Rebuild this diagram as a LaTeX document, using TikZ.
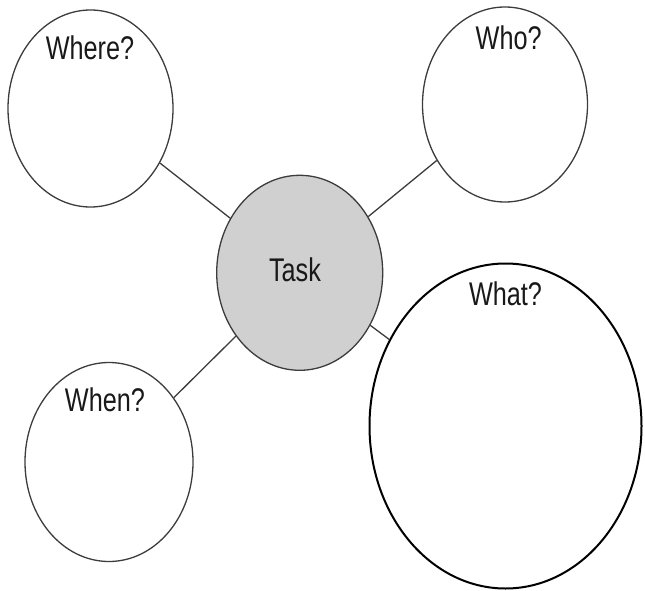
\documentclass[tikz,border=0pt]{standalone}
\usepackage{fontspec}
\setmainfont{Liberation Sans}
\newfontfamily\lblfont[FakeStretch=0.77]{Liberation Sans}
\usetikzlibrary{shapes.geometric}
\definecolor{taskgray}{RGB}{208,208,208}
\definecolor{edgegray}{RGB}{60,60,60}
\tikzset{
  bubble/.style={ellipse, draw=edgegray, line width=1.3pt, inner sep=0pt, fill=white},
  bigbubble/.style={ellipse, draw=black, line width=2pt, inner sep=0pt, fill=white},
  lbl/.style={anchor=base, inner sep=0pt, font=\lblfont\fontsize{32.8}{36}\selectfont, text=black!90},
  link/.style={draw=edgegray, line width=1.3pt}
}
\begin{document}
\begin{tikzpicture}[x=1pt,y=-1pt]
\useasboundingbox (0,0) rectangle (645,591);
\node[bubble, minimum width=165pt, minimum height=197pt] (where) at (90.5,108.5) {};
\node[bubble, minimum width=165pt, minimum height=195pt] (who) at (505,104.5) {};
\node[bubble, fill=taskgray, minimum width=166pt, minimum height=195pt] (task) at (299.7,272.8) {};
\node[bigbubble, minimum width=272pt, minimum height=325pt] (what) at (505.5,426) {};
\node[bubble, minimum width=168pt, minimum height=199pt] (when) at (109,462) {};
\draw[link] (where) -- (task);
\draw[link] (who) -- (task);
\draw[link] (when) -- (task);
\draw[link] (task) -- (what);
\node[lbl] (wherelbl) at (90,60) {Where?};
\node[lbl] (wholbl) at (508.7,50) {Who?};
\node[lbl] (tasklbl) at (295,281) {Task};
\node[lbl] (whatlbl) at (505.5,305) {What?};
\node[lbl] (whenlbl) at (105,411.7) {When?};
\end{tikzpicture}
\end{document}
